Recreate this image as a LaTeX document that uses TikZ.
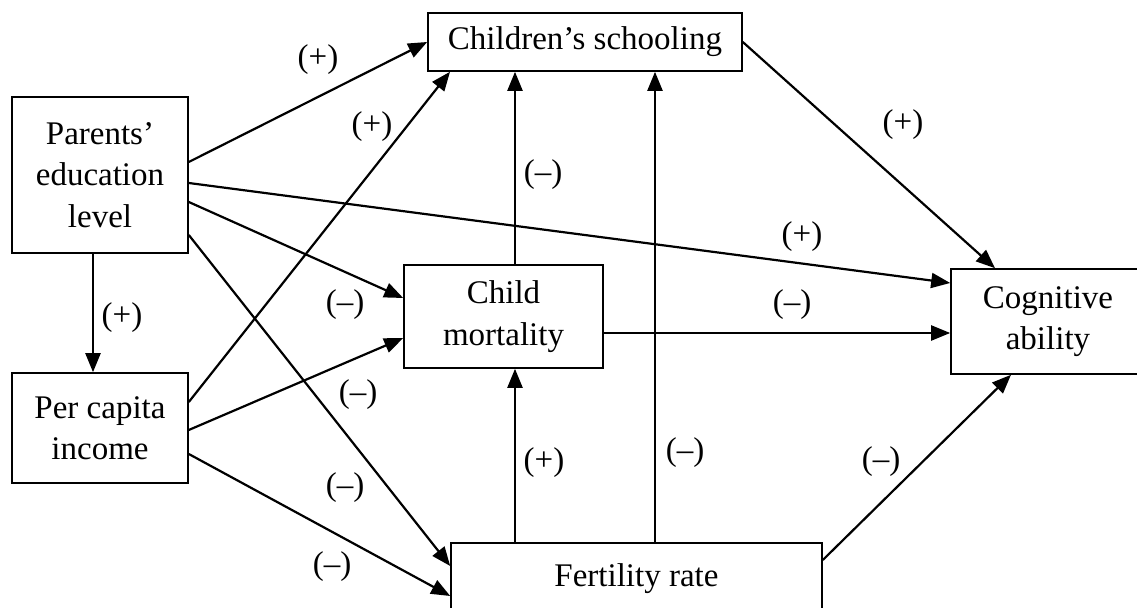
\documentclass[tikz,border=0pt]{standalone}
\usepackage{fontspec}
\setmainfont{Liberation Serif}
\usetikzlibrary{arrows.meta}
\tikzset{
  % node styles (variables in boxes, signs of the effects)
  box/.style={draw,line width=0.8pt,align=center,inner sep=0pt,font=\fontsize{16.5}{20.75}\selectfont},
  sign/.style={inner sep=0pt,font=\fontsize{16.5}{20}\selectfont},
  % effect of one variable on another
  effect/.style={line width=1.1pt,-{Triangle[length=9.5pt,width=7.5pt]}},
}

\begin{document}
\begin{tikzpicture}[x=0.5pt,y=-0.5pt]
  \clip (0,0) rectangle (1137,608);
  \node[box,minimum width=88pt,minimum height=78pt] (par) at (100,175) {Parents’\\education\\level};
  \node[box,minimum width=88pt,minimum height=55pt] (inc) at (100,428) {Per capita\\income};
  \node[box,minimum width=157pt,minimum height=29pt] (sch) at (585,42) {Children’s schooling};
  \node[box,minimum width=99.5pt,minimum height=51.5pt] (mort) at (503.5,316.5) {Child\\mortality};
  \node[box,minimum width=185.5pt,minimum height=34.5pt,text depth=2pt] (fert) at (636.5,577.5) {Fertility rate};
  \node[box,minimum width=97pt,minimum height=52.5pt] (cog) at (1048,321.5) {Cognitive\\ability};
  % effects of the parents
  \draw[effect] ([yshift=6.5pt]par.east) -- (sch.west);
  \draw[effect] ([yshift=-4pt]par.east) -- ([yshift=19.25pt]cog.west);
  \draw[effect] ([yshift=-13.5pt]par.east) -- ([yshift=9.25pt]mort.west);
  \draw[effect] ([yshift=-30pt]par.east) -- ([yshift=5.75pt]fert.west);
  \draw[effect] ([xshift=-3.5pt]par.south) -- ([xshift=-3.5pt]inc.north);
  % effects of the income
  \draw[effect] ([yshift=13pt]inc.east) -- ([xshift=-67.5pt]sch.south);
  \draw[effect] ([yshift=-1pt]inc.east) -- ([yshift=-10.75pt]mort.west);
  \draw[effect] ([yshift=-13pt]inc.east) -- ([yshift=-9.25pt]fert.west);
  % effects between the other variables
  \draw[effect] ([xshift=5.75pt]mort.north) -- ([xshift=5.75pt]mort.north |- sch.south);
  \draw[effect] ([xshift=9.25pt]fert.north) -- ([xshift=9.25pt]fert.north |- sch.south);
  \draw[effect] ([xshift=-60.75pt]fert.north) -- ([xshift=-60.75pt]fert.north |- mort.south);
  \draw[effect] ([yshift=-8.25pt]mort.east) -- ([yshift=-8.25pt]mort.east -| cog.west);
  \draw[effect] (sch.east) -- ([xshift=-26.5pt]cog.north);
  \draw[effect] ([yshift=8.75pt]fert.east) -- ([xshift=-18.5pt]cog.south);
  % signs
  \node[sign] (s1) at (318,60) {(+)};
  \node[sign] (s2) at (372,127) {(+)};
  \node[sign] (s3) at (802,237) {(+)};
  \node[sign] (s4) at (345,305) {(–)};
  \node[sign] (s5) at (358,395) {(–)};
  \node[sign] (s6) at (345,488) {(–)};
  \node[sign] (s7) at (332,567) {(–)};
  \node[sign] (s8) at (122,318) {(+)};
  \node[sign] (s9) at (543,175) {(–)};
  \node[sign] (s10) at (685,453) {(–)};
  \node[sign] (s11) at (544,463) {(+)};
  \node[sign] (s12) at (792,305) {(–)};
  \node[sign] (s13) at (903,125) {(+)};
  \node[sign] (s14) at (881,462) {(–)};
\end{tikzpicture}
\end{document}
